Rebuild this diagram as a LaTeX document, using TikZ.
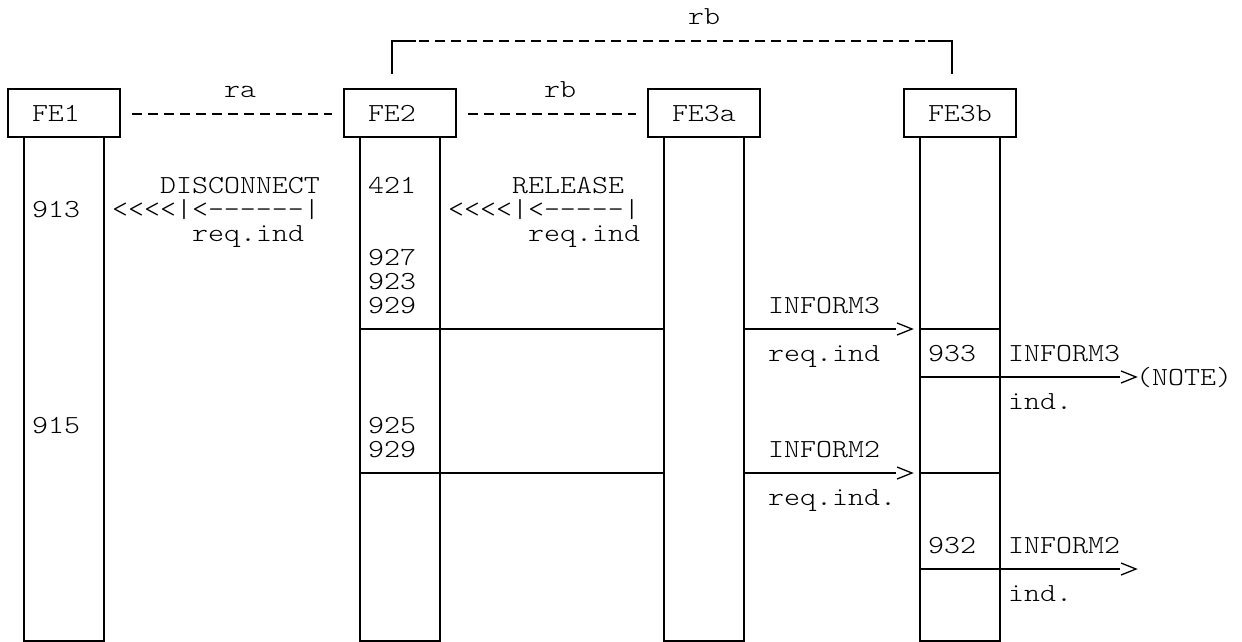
\documentclass[tikz,border=0pt]{standalone}
\usepackage{fontspec}
\newfontfamily\cour[FakeStretch=1.17]{lmmonolt10-regular.otf}
\begin{document}
\begin{tikzpicture}[x=1pt,y=-1pt,
  txt/.style={anchor=base west,inner sep=0pt,font=\cour\fontsize{26}{24}\selectfont},
  febox/.style={draw,line width=1.8pt,fill=white,minimum height=48pt,text width=64pt,
    align=left,inner xsep=24pt,inner ysep=0pt,text height=16pt,text depth=0pt,
    font=\cour\fontsize{26}{24}\selectfont},
  life/.style={line width=1.8pt},
  msg/.style={line width=1.5pt},
  chev/.style={line width=1.3pt},
  dashline/.style={line width=1.3pt,dash pattern=on 10pt off 6pt},
  solidline/.style={line width=1.5pt}]
\useasboundingbox (0,0) rectangle (1242,642);
% lifelines
\draw[life] (24,137) rectangle (104,641);
\draw[life] (360,137) rectangle (440,641);
\draw[life] (664,137) rectangle (744,641);
\draw[life] (920,137) rectangle (1000,641);
% entity boxes
\node[febox] (fe1) at (64,113) {FE1};
\node[febox] (fe2) at (400,113) {FE2};
\node[febox] (fe3a) at (704,113) {FE3a};
\node[febox] (fe3b) at (960,113) {FE3b};
% relationships
\draw[dashline] ([xshift=11pt,yshift=-1pt]fe1.east) -- ([xshift=-11pt,yshift=-1pt]fe2.west);
\draw[dashline] ([xshift=11pt,yshift=-1pt]fe2.east) -- ([xshift=-11pt,yshift=-1pt]fe3a.west);
\coordinate (bl) at (392,74);
\coordinate (br) at (952,74);
\coordinate (c1) at (416,41);
\coordinate (c2) at (928,41);
\draw[solidline] (bl) |- (c1);
\draw[dashline] ([xshift=3pt]c1) -- ([xshift=-3pt]c2);
\draw[solidline] (c2) -| (br);
\node[txt] (rbtop) at (688,25) {rb};
\node[txt] (ra) at (224,97) {ra};
\node[txt] (rbmid) at (544,97) {rb};
% FE1 / FE2 texts
\node[txt] (disc) at (160,193) {DISCONNECT};
\node[txt] (n913) at (32,217) {913};
\node[txt] (arr1) at (112,217) {<<<<|<------|};
\node[txt] (req1) at (192,241) {req.ind};
\node[txt] (n421) at (368,193) {421};
\node[txt] (rel) at (512,193) {RELEASE};
\node[txt] (arr2) at (448,217) {<<<<|<-----|};
\node[txt] (req2) at (528,241) {req.ind};
\node[txt] (n927) at (368,265) {927};
\node[txt] (n923) at (368,289) {923};
\node[txt] (n929a) at (368,313) {929};
\node[txt] (n915) at (32,433) {915};
\node[txt] (n925) at (368,433) {925};
\node[txt] (n929b) at (368,457) {929};
% INFORM3
\coordinate (a1s) at (360,329); \coordinate (a1e) at (664,329);
\draw[msg] (a1s) -- (a1e);
\coordinate (m1s) at (744,329); \coordinate (m1e) at (896,329);
\draw[msg] (m1s) -- (m1e);
\draw[chev] ([shift={(1,-6)}]m1e) -- ([shift={(16,0)}]m1e) -- ([shift={(1,6)}]m1e);
\coordinate (b1s) at (920,329); \coordinate (b1e) at (1000,329);
\draw[msg] (b1s) -- (b1e);
\node[txt] (inf3a) at (768,313) {INFORM3};
\node[txt] (req3) at (768,361) {req.ind};
\node[txt] (n933) at (928,361) {933};
\node[txt] (inf3b) at (1008,361) {INFORM3};
\coordinate (m2s) at (920,377); \coordinate (m2e) at (1120,377);
\draw[msg] (m2s) -- (m2e);
\draw[chev] ([shift={(1,-6)}]m2e) -- ([shift={(16,0)}]m2e) -- ([shift={(1,6)}]m2e);
\node[txt] (note) at (1136,385) {(NOTE)};
\node[txt] (ind1) at (1008,409) {ind.};
% INFORM2
\coordinate (a2s) at (360,473); \coordinate (a2e) at (664,473);
\draw[msg] (a2s) -- (a2e);
\coordinate (m3s) at (744,473); \coordinate (m3e) at (896,473);
\draw[msg] (m3s) -- (m3e);
\draw[chev] ([shift={(1,-6)}]m3e) -- ([shift={(16,0)}]m3e) -- ([shift={(1,6)}]m3e);
\coordinate (b2s) at (920,473); \coordinate (b2e) at (1000,473);
\draw[msg] (b2s) -- (b2e);
\node[txt] (inf2a) at (768,457) {INFORM2};
\node[txt] (req4) at (768,505) {req.ind.};
\node[txt] (n932) at (928,553) {932};
\node[txt] (inf2b) at (1008,553) {INFORM2};
\coordinate (m4s) at (920,569); \coordinate (m4e) at (1120,569);
\draw[msg] (m4s) -- (m4e);
\draw[chev] ([shift={(1,-6)}]m4e) -- ([shift={(16,0)}]m4e) -- ([shift={(1,6)}]m4e);
\node[txt] (ind2) at (1008,601) {ind.};
\end{tikzpicture}
\end{document}
